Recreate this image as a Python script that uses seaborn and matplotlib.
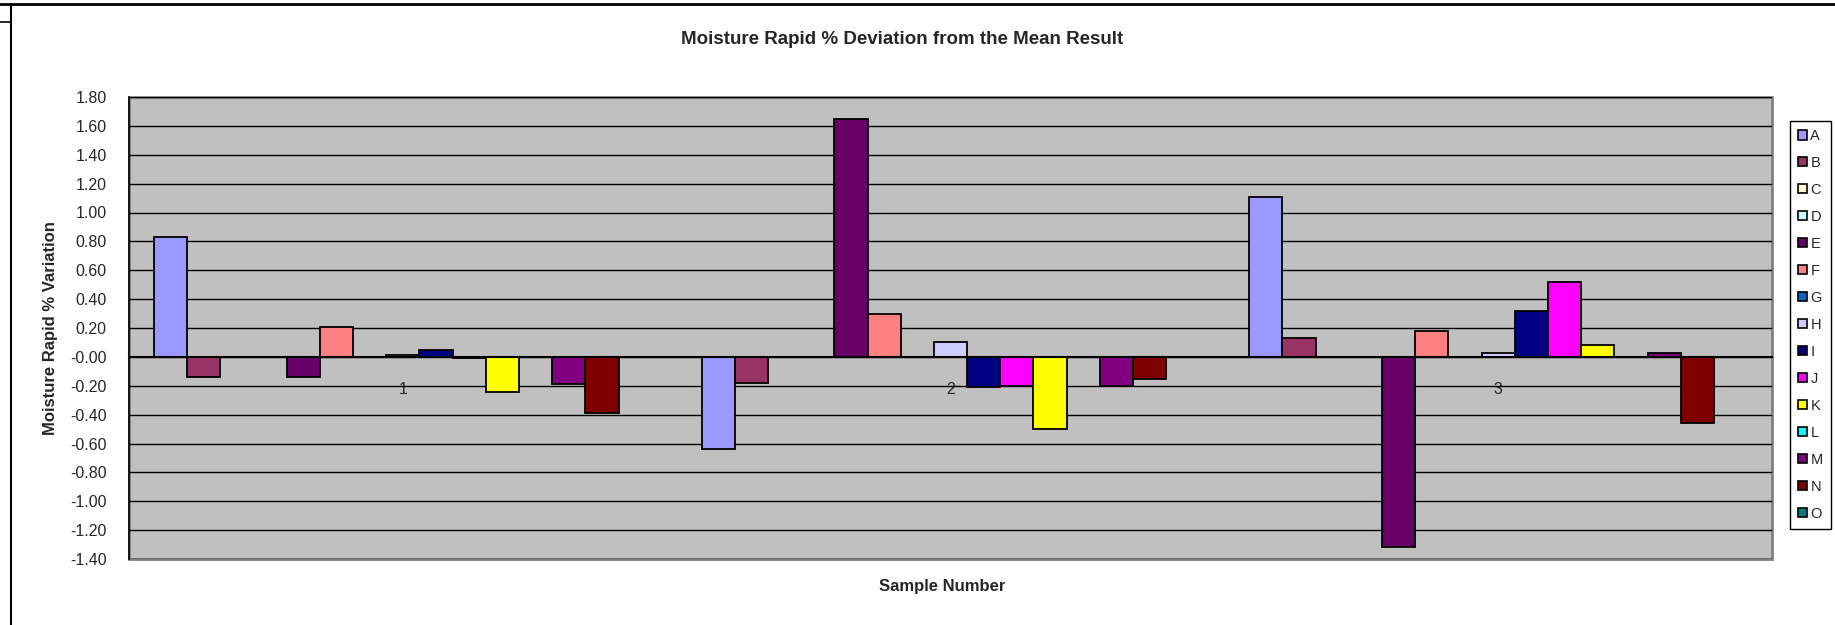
import numpy as np
import pandas as pd
import matplotlib
matplotlib.use("Agg")
import matplotlib.pyplot as plt
from matplotlib.patches import Patch, Rectangle
from matplotlib.lines import Line2D
import seaborn as sns

# data (NaN = no bar shown)
samples = ["1", "2", "3"]
series = list("ABCDEFGHIJKLMNO")
vals_1 = [0.83, -0.14, np.nan, np.nan, -0.14, 0.21, np.nan, 0.01, 0.05, -0.01, -0.24, np.nan, -0.19, -0.39, np.nan]
vals_2 = [-0.64, -0.18, np.nan, np.nan, 1.65, 0.30, np.nan, 0.10, -0.21, -0.20, -0.50, np.nan, -0.20, -0.15, np.nan]
vals_3 = [1.11, 0.13, np.nan, np.nan, -1.32, 0.18, np.nan, 0.03, 0.32, 0.52, 0.08, np.nan, 0.03, -0.46, np.nan]
colors = ["#9999FF", "#993366", "#FFFFCC", "#CCFFFF", "#660066", "#FF8080", "#0066CC", "#CCCCFF",
          "#000080", "#FF00FF", "#FFFF00", "#00FFFF", "#800080", "#800000", "#008080"]

rows = []
for s, vals in zip(samples, [vals_1, vals_2, vals_3]):
    for name, v in zip(series, vals):
        rows.append({"sample": s, "series": name, "value": v})
df = pd.DataFrame(rows).dropna()

sns.set_style("white")
plt.rcParams["font.family"] = ["Liberation Sans", "DejaVu Sans"]
plt.rcParams["axes.unicode_minus"] = False

fig = plt.figure(figsize=(18.35, 6.25), dpi=100)
ax = fig.add_axes([129 / 1835, 1 - 559 / 625, 1643 / 1835, 462 / 625])
ax.set_facecolor("#C0C0C0")

sns.barplot(data=df, x="sample", y="value", hue="series", order=samples, hue_order=series,
            palette=dict(zip(series, colors)), saturation=1, width=15 / 16.5, errorbar=None,
            edgecolor="black", linewidth=1.3, ax=ax, legend=False, zorder=3)

ax.set_xlim(-0.5, 2.5)
ax.set_ylim(-1.4, 1.8)
ax.set_yticks(np.round(np.arange(-1.4, 1.81, 0.2), 2))
ax.yaxis.set_major_formatter(matplotlib.ticker.FormatStrFormatter("%.2f"))
ax.grid(axis="y", color="black", linewidth=1.0, zorder=1)
ax.set_axisbelow(True)

# axis at zero with category boundary ticks
ax.spines["bottom"].set_position(("data", 0))
ax.spines["bottom"].set_color("black")
ax.spines["bottom"].set_linewidth(1.5)
ax.spines["bottom"].set_zorder(4)
ax.spines["left"].set_color("black")
ax.spines["left"].set_linewidth(1.2)
ax.spines["top"].set_visible(False)
ax.spines["right"].set_visible(False)
ax.add_patch(Rectangle((0, 0), 1, 1, transform=ax.transAxes, fill=False,
                       edgecolor="#808080", linewidth=2, zorder=0.5, clip_on=False))

ax.set_xticks([0, 1, 2])
ax.set_xticklabels(samples)
ax.set_xticks([-0.5, 0.5, 1.5, 2.5], minor=True)
ax.tick_params(axis="x", which="major", length=0, pad=18, labelsize=11.5)
ax.tick_params(axis="x", which="minor", length=5, width=1.2, color="black", direction="out")
ax.tick_params(axis="y", length=5, width=1.2, color="black", direction="out", labelsize=11.5, pad=11)
ax.set_xlabel("")
ax.set_ylabel("")

fig.text(902 / 1835, 1 - 39 / 625, "Moisture Rapid % Deviation from the Mean Result",
         ha="center", va="center", fontsize=13.5, fontweight="bold")
fig.text(942 / 1835, 1 - 587 / 625, "Sample Number", ha="center", va="center",
         fontsize=12, fontweight="bold")
fig.text(50 / 1835, 1 - 328 / 625, "Moisture Rapid % Variation", ha="center", va="center",
         rotation=90, fontsize=12, fontweight="bold")

handles = [Patch(facecolor=c, edgecolor="black", linewidth=1.2) for c in colors]
leg = fig.legend(handles, series, loc="upper left", bbox_to_anchor=(1790 / 1835, 1 - 121 / 625),
                 bbox_transform=fig.transFigure, fontsize=10.5, frameon=True, fancybox=False,
                 framealpha=1, edgecolor="black", handlelength=0.6, handleheight=0.6,
                 handletextpad=0.25, labelspacing=0.89, borderpad=0.55, borderaxespad=0)
leg.get_frame().set_linewidth(1.0)

# chart area border of the spreadsheet object
fig.add_artist(Line2D([11 / 1835, 11 / 1835], [0, 1 - 3.5 / 625], color="black", linewidth=1.5))
fig.add_artist(Line2D([0, 1], [1 - 3.5 / 625, 1 - 3.5 / 625], color="black", linewidth=2))
fig.add_artist(Line2D([0, 11 / 1835], [1 - 22 / 625, 1 - 22 / 625], color="black", linewidth=1.2))

fig.savefig("out.png", dpi=100, facecolor="white")
